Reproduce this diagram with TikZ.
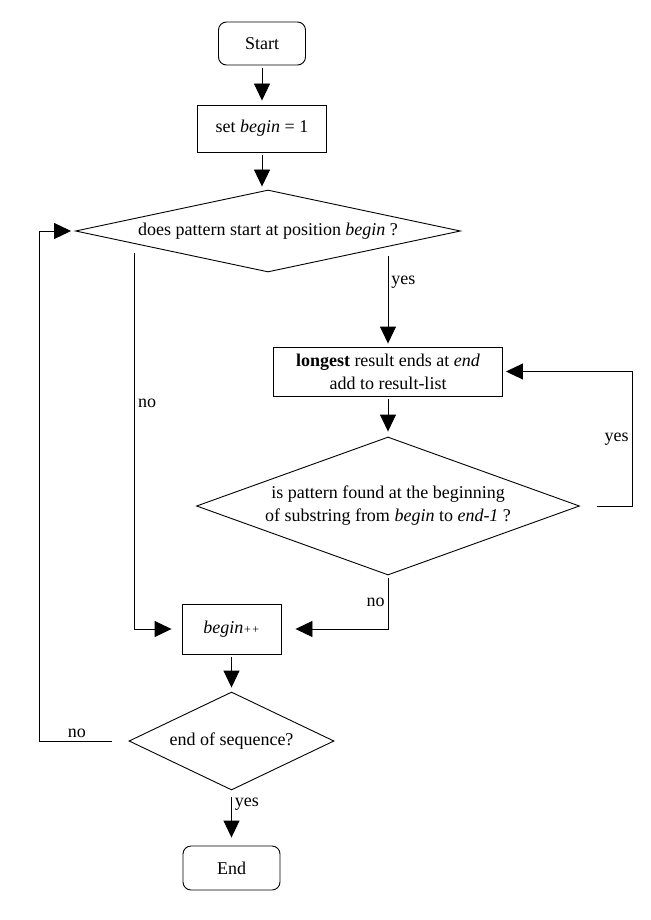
\documentclass[tikz,border=0pt]{standalone}
\usepackage{fontspec}
\setmainfont{Liberation Serif}
\usetikzlibrary{arrows.meta, positioning, shapes.geometric, calc}

\begin{document}
\begin{tikzpicture}[
			x=1pt, y=-1pt,
			font=\fontsize{18}{23}\selectfont,
			line width=0.9pt,
			term/.style={
				draw,
				rounded corners=8pt,
				minimum width=87pt,
				minimum height=43pt
			},
			box/.style={draw, align=center, inner sep=0pt},
			decision/.style={draw, diamond, align=center, inner sep=0pt},
			arr/.style={-{Triangle[length=17pt, width=16pt]}},
			lbl/.style={inner sep=3pt}
			]
			
			\useasboundingbox (0,0) rectangle (650,920);
			
			\node[term] (start) at (262,43.5) {Start};
			\node[box, minimum width=129pt, minimum height=47pt] (set) at (262,128.5) {set \textit{begin} = 1};
			\node[decision, aspect=4.7, minimum width=385pt, minimum height=82pt] (d1) at (268,231) {does pattern start at position \textit{begin} ?};
			\node[box, minimum width=229pt, minimum height=49pt] (long) at (388,371.5) {\textbf{longest} result ends at \textit{end}\\add to result-list};
			\node[decision, aspect=2.775, minimum width=383pt, minimum height=138pt] (d2) at (388,506) {is pattern found at the beginning\\of substring from \textit{begin} to \textit{end-1} ?};
			\node[box, minimum width=99pt, minimum height=50pt] (inc) at (231.5,629) {\textit{begin{\fontsize{12}{12}\selectfont++}}};
			\node[decision, aspect=2.1, minimum width=205pt, minimum height=98pt] (d3) at (231.5,741) {end of sequence?};
			\node[term, minimum width=97pt, minimum height=44pt] (end) at (231.5,868) {End};
			
			\draw[arr, shorten <=3pt, shorten >=4pt] (start) -- (set);
			\draw[arr, shorten <=3pt, shorten >=3pt] (set) -- (set |- d1.north);
			\draw[arr, shorten >=3pt] ($(d1.south -| long)+(0,-16)$) -- (long) node[lbl, pos=0.29, right] {yes};
			\draw[arr, shorten >=10pt] ($(d1.west)+(59.5,22)$) |- (inc) node[lbl, pos=0.2, right] {no};
			\draw[arr, shorten <=3pt, shorten >=5pt] (long) -- (d2);
			\draw[arr, shorten >=3pt] ($(d2.east)+(17,0)$) -- ($(d2.east)+(52,0)$) |- (long) node[lbl, pos=0.25, left] {yes};
			\draw[arr, shorten <=3pt, shorten >=14pt] (d2) |- (inc) node[lbl, pos=0.25, left] {no};
			\draw[arr, shorten <=3pt, shorten >=4pt] (inc) -- (d3);
			\draw[arr, shorten >=4pt] ($(d3.west)+(-17,0)$) -| ($(d1.west)+(-36,0)$) node[lbl, pos=0.24, above] {no} -- (d1);
			\draw[arr, shorten <=7pt, shorten >=8pt] (d3) -- (end) node[lbl, pos=0.25, right] {yes};
			
		\end{tikzpicture}
\end{document}
